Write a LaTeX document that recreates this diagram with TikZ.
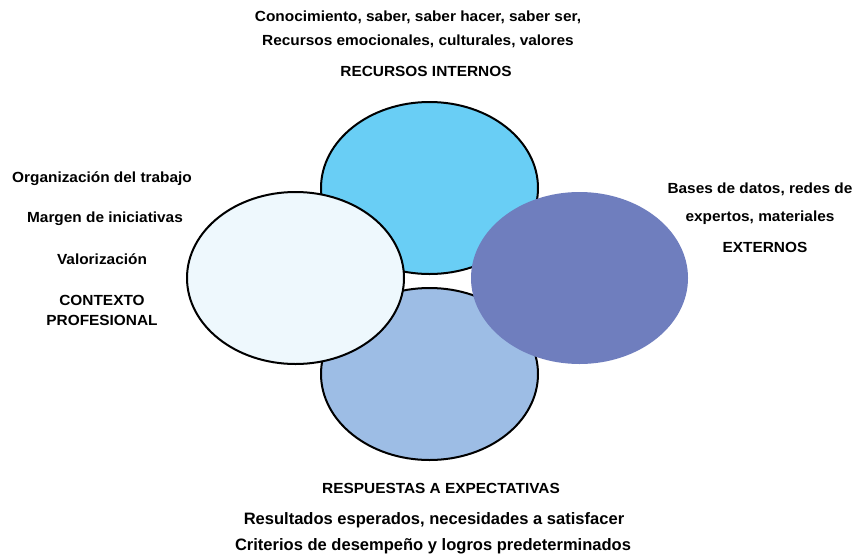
\documentclass[tikz,border=0pt]{standalone}
\usepackage{fontspec}
\setmainfont{Liberation Sans}
\usetikzlibrary{shapes.geometric}
\definecolor{ctop}{HTML}{69CEF5}
\definecolor{cbot}{HTML}{9DBDE5}
\definecolor{cleft}{HTML}{EEF8FD}
\definecolor{cright}{HTML}{6F7EBE}
\begin{document}
\begin{tikzpicture}[x=0.75pt,y=-0.75pt,
  blob/.style={ellipse, minimum width=162.75pt, minimum height=129pt, inner sep=0pt},
  lab/.style={font=\bfseries\fontsize{11}{13}\selectfont, inner sep=0pt, align=center, xscale=1.05},
  labbig/.style={font=\bfseries\fontsize{12.4}{14}\selectfont, inner sep=0pt, align=center}]
\useasboundingbox (0,0) rectangle (860,554);
\node[blob, draw=black, line width=1.5pt, fill=ctop] (top) at (429.5,188) {};
\node[blob, draw=black, line width=1.5pt, fill=cbot] (bot) at (429.5,374) {};
\node[blob, draw=black, line width=1.5pt, fill=cleft] (left) at (295.5,278) {};
\node[blob, fill=cright] (right) at (579.5,278) {};
\node[lab] (t1) at (418,17) {Conocimiento, saber, saber hacer, saber ser,};
\node[lab] (t2) at (418,41) {Recursos emocionales, culturales, valores};
\node[lab] (t3) at (426,71) {RECURSOS INTERNOS};
\node[lab] (l1) at (102,179) {Organización del trabajo};
\node[lab] (l2) at (105,219) {Margen de iniciativas};
\node[lab] (l3) at (102,259) {Valorización};
\node[lab] (l4) at (102,300) {CONTEXTO};
\node[lab] (l5) at (102,320) {PROFESIONAL};
\node[lab] (r1) at (760,189) {Bases de datos, redes de};
\node[lab] (r2) at (760,218) {expertos, materiales};
\node[lab] (r3) at (765,247) {EXTERNOS};
\node[lab] (b1) at (441,488) {RESPUESTAS A EXPECTATIVAS};
\node[labbig] (b2) at (434,520) {Resultados esperados, necesidades a satisfacer};
\node[labbig] (b3) at (433,546) {Criterios de desempeño y logros predeterminados};
\end{tikzpicture}
\end{document}
